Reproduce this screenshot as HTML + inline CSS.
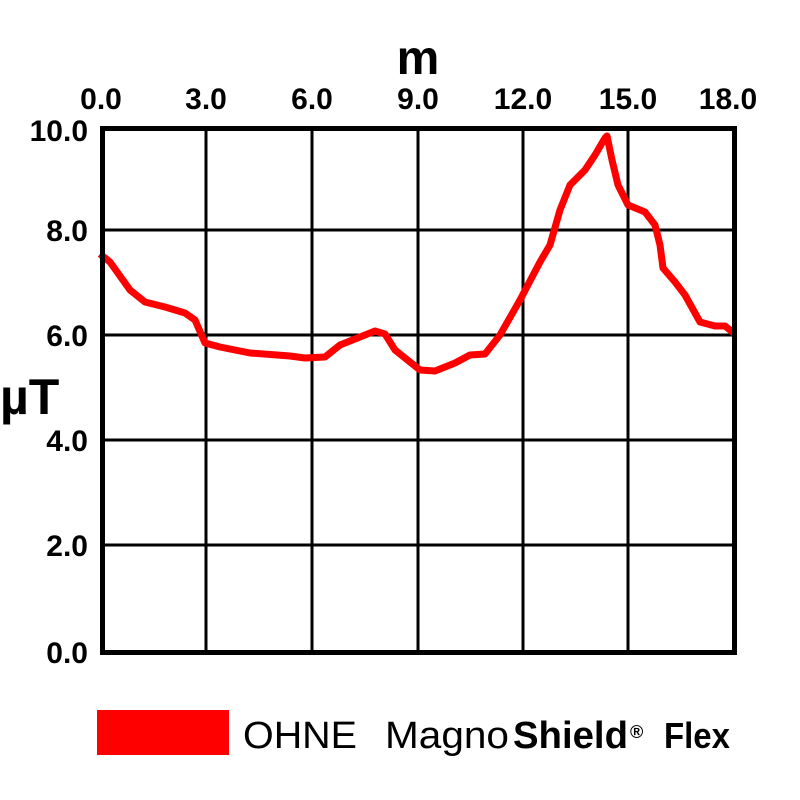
<!DOCTYPE html>
<html><head><style>body{margin:0;background:#fff}svg{display:block}</style></head><body>
<svg width="800" height="800" xmlns="http://www.w3.org/2000/svg" font-family="Liberation Sans, Arial, sans-serif">
<rect width="800" height="800" fill="#fff"/>
<g stroke="#000" stroke-width="3">
<line x1="206" y1="128" x2="206" y2="652"/><line x1="312" y1="128" x2="312" y2="652"/>
<line x1="418" y1="128" x2="418" y2="652"/><line x1="523" y1="128" x2="523" y2="652"/>
<line x1="628" y1="128" x2="628" y2="652"/>
<line x1="102" y1="230" x2="734" y2="230"/><line x1="102" y1="335" x2="734" y2="335"/>
<line x1="102" y1="440" x2="734" y2="440"/><line x1="102" y1="545" x2="734" y2="545"/>
</g>
<polyline fill="none" stroke="#f00" stroke-width="7" stroke-linejoin="round" points="100,254 110,262 120,276 130,290 145,302 165,307 185,313 195,320 205,343 220,347 250,353 290,356 305,358 325,357 340,345 360,337 375,331 385,334 395,350 410,362 420,370 435,371 455,363 470,355 485,354 500,335 520,300 540,262 550,245 560,210 570,185 585,170 595,155 605,138 607,136 612,160 618,185 628,205 645,212 655,225 660,245 663,268 675,282 685,295 700,322 715,326 725,326 735,334"/>
<rect x="102.5" y="128.5" width="632" height="524" fill="none" stroke="#000" stroke-width="5"/>
<g font-weight="bold" font-size="30" text-anchor="middle" fill="#000">
<text x="101" y="109">0.0</text><text x="206" y="109">3.0</text><text x="312" y="109">6.0</text>
<text x="418" y="109">9.0</text><text x="523" y="109">12.0</text><text x="628" y="109">15.0</text><text x="728" y="109">18.0</text>
</g>
<g font-weight="bold" font-size="30" text-anchor="end" fill="#000">
<text x="88" y="141">10.0</text><text x="88" y="241">8.0</text><text x="88" y="346">6.0</text>
<text x="88" y="451">4.0</text><text x="88" y="556">2.0</text><text x="88" y="663">0.0</text>
</g>
<text x="418" y="74" font-weight="bold" font-size="48" text-anchor="middle">m</text>
<text x="0" y="414" font-weight="bold" font-size="50">µT</text>
<rect x="97" y="710" width="132" height="45" fill="#f00"/>
<text x="243" y="748" font-size="38" textLength="114" lengthAdjust="spacingAndGlyphs">OHNE</text>
<text x="385" y="748" font-size="38" textLength="124" lengthAdjust="spacingAndGlyphs">Magno</text>
<text x="513" y="748" font-size="38" font-weight="bold" textLength="115" lengthAdjust="spacingAndGlyphs">Shield</text>
<text x="630" y="738" font-size="18" font-weight="bold">®</text>
<text x="664" y="748" font-size="36" font-weight="bold" textLength="66" lengthAdjust="spacingAndGlyphs">Flex</text>
</svg>
</body></html>
